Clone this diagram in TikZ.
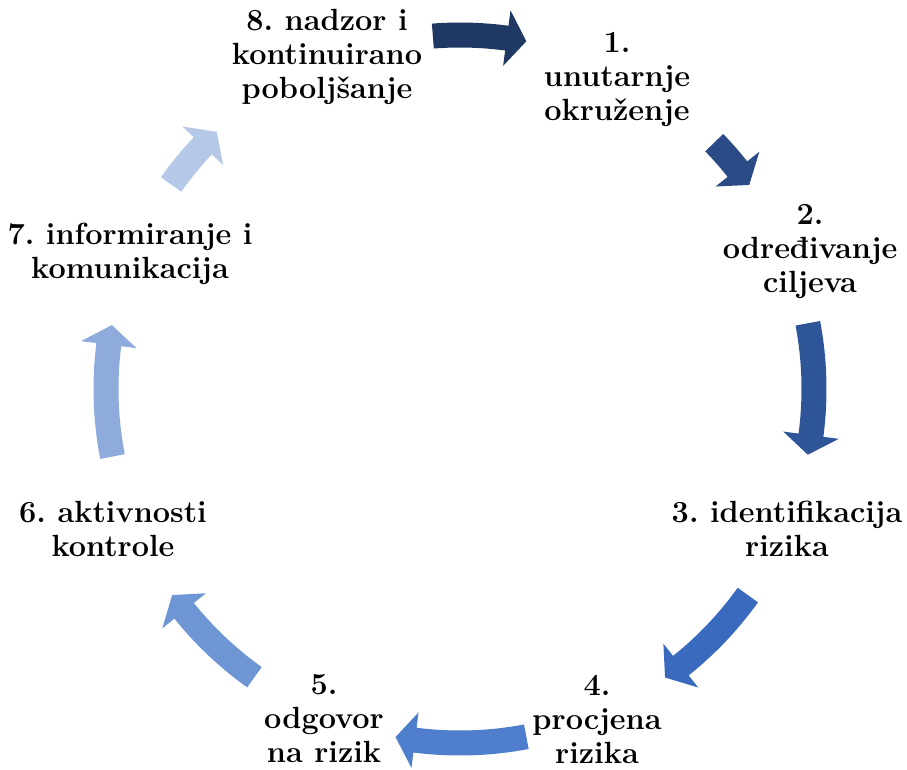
\documentclass[tikz,border=0pt]{standalone}
\usepackage{xcolor}
\definecolor{ca}{HTML}{1F3864}
\definecolor{cb}{HTML}{2A4B86}
\definecolor{cc}{HTML}{2E5597}
\definecolor{cd}{HTML}{3A6ABE}
\definecolor{ce}{HTML}{4F7FCC}
\definecolor{cf}{HTML}{6E95D4}
\definecolor{cg}{HTML}{8EABDC}
\definecolor{ch}{HTML}{B5C8E8}
\frenchspacing
\tikzset{lbl/.style={font=\fontsize{23pt}{25.5pt}\selectfont\bfseries, align=center, inner sep=0pt, text=black}}
\newcommand{\cyclearrow}[3]{%
  \pgfmathsetmacro{\hb}{#3+3.2}%
  \fill[#1] (#2:341.5) arc[start angle=#2, end angle=\hb, radius=341.5] -- (\hb:326) -- (#3:354) -- (\hb:382) -- (\hb:366.5) arc[start angle=\hb, end angle=#2, radius=366.5] -- cycle;}
\begin{document}
\begin{tikzpicture}[x=0.75pt, y=0.75pt]
\useasboundingbox (0,0) rectangle (907,769);
\begin{scope}[shift={(460,380)}]
  \cyclearrow{ca}{94.4}{79.2}
  \cyclearrow{cb}{44.1}{35.2}
  \cyclearrow{cc}{10.7}{-10.7}
  \cyclearrow{cd}{-35.6}{-54.6}
  \cyclearrow{ce}{-79.2}{-100.5}
  \cyclearrow{cf}{-125.5}{-144.4}
  \cyclearrow{cg}{191}{169.6}
  \cyclearrow{ch}{144.7}{133.4}
\end{scope}
\node[lbl] (n8) at (327,712.5) {8. nadzor i\\kontinuirano\\poboljšanje};
\node[lbl] (n1) at (617,689) {1.\\unutarnje\\okruženje};
\node[lbl] (n2) at (810,517) {2.\\određivanje\\ciljeva};
\node[lbl] (n3) at (787,240) {3. identifikacija\\rizika};
\node[lbl] (n4) at (597,50) {4.\\procjena\\rizika};
\node[lbl] (n5) at (324,50) {5.\\odgovor\\na rizik};
\node[lbl] (n6) at (113,240) {6. aktivnosti\\kontrole};
\node[lbl] (n7) at (130,515) {7. informiranje i\\komunikacija};
\end{tikzpicture}
\end{document}
